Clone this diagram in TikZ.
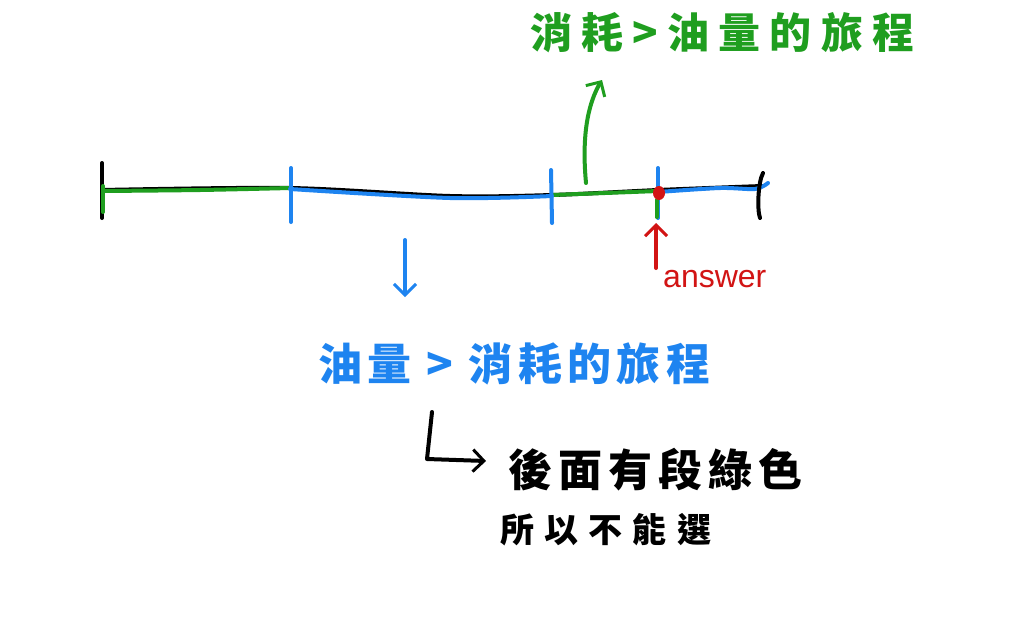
\documentclass[tikz,border=0pt]{standalone}
\usepackage{fontspec}
\setmainfont{Liberation Sans}
\newfontfamily\cjk{Noto Sans CJK TC}
\usetikzlibrary{arrows.meta}
\definecolor{hgreen}{HTML}{1F9E1F}
\definecolor{hblue}{HTML}{1E84F0}
\definecolor{hred}{HTML}{D21414}
\begin{document}
\begin{tikzpicture}[x=1pt,y=-1pt,line cap=round,line join=round,
  pen/.style={line width=4pt},
  tip/.style={-{Straight Barb[length=11pt,width=22pt,line width=3pt]}},
  lab/.style={inner sep=0pt,anchor=west}]
\useasboundingbox (0,0) rectangle (1024,627);
\fill[white] (0,0) rectangle (1024,627);
% main line
\draw[pen] plot[smooth] coordinates {(102,190)(290,188)(450,196)(552,195)(658,190)(762,186)};
\draw[pen,hgreen] plot[smooth] coordinates {(102,191)(200,190)(290,188)};
\draw[pen,hgreen] (552,195) -- (658,191);
\draw[pen,hblue] plot[smooth] coordinates {(290,189)(450,198)(552,196)};
\draw[pen,hblue] plot[smooth] coordinates {(658,192)(720,188)(755,189)(768,183)};
% ticks
\draw[pen] (102,163) -- (102,218);
\draw[pen,hgreen] (103,186) -- (103,212);
\draw[pen,hblue] (291,168) -- (291,222);
\draw[pen,hblue] (551,170) -- (552,223);
\draw[pen,hblue] (658,168) -- (658,218);
\draw[pen,hgreen] (656.5,200) -- (656.5,217);
\draw[pen] (763,173) .. controls (758,182) and (757,210) .. (760,218);
\fill[hred] (659,193) ellipse (6 and 7);
% texts
\node[lab,text=hgreen,font=\cjk\bfseries\fontsize{42}{44}\selectfont\addfontfeatures{LetterSpace=22}] (gt) at (530,33) {消耗>油量的旅程};
\node[lab,text=hblue,font=\cjk\bfseries\fontsize{44}{46}\selectfont\addfontfeatures{LetterSpace=12}] (bt) at (318,364) {油量 > 消耗的旅程};
\node[lab,font=\cjk\bfseries\fontsize{44}{46}\selectfont\addfontfeatures{LetterSpace=14}] (t1) at (508,470) {後面有段綠色};
\node[lab,font=\cjk\bfseries\fontsize{34}{36}\selectfont\addfontfeatures{LetterSpace=30}] (t2) at (500,530) {所以不能選};
\node[lab,text=hred,font=\fontsize{32}{34}\selectfont] (ans) at (663,279) {answer};
% arrows
\coordinate (gs) at (586,183);
\coordinate (ge) at (602,80);
\draw[pen,hgreen,tip] (gs) .. controls (581,130) and (590,100) .. (ge);
\coordinate (bs) at (405,240);
\coordinate (be) at (405,297);
\draw[pen,hblue,tip] (bs) -- (be);
\coordinate (rs) at (656,268);
\coordinate (re) at (656,223);
\draw[pen,hred,tip] (rs) -- (re);
\coordinate (ls) at (432,412);
\coordinate (lc) at (427,459);
\coordinate (le) at (486,461);
\draw[pen,tip] (ls) -- (lc) -- (le);
\end{tikzpicture}
\end{document}
